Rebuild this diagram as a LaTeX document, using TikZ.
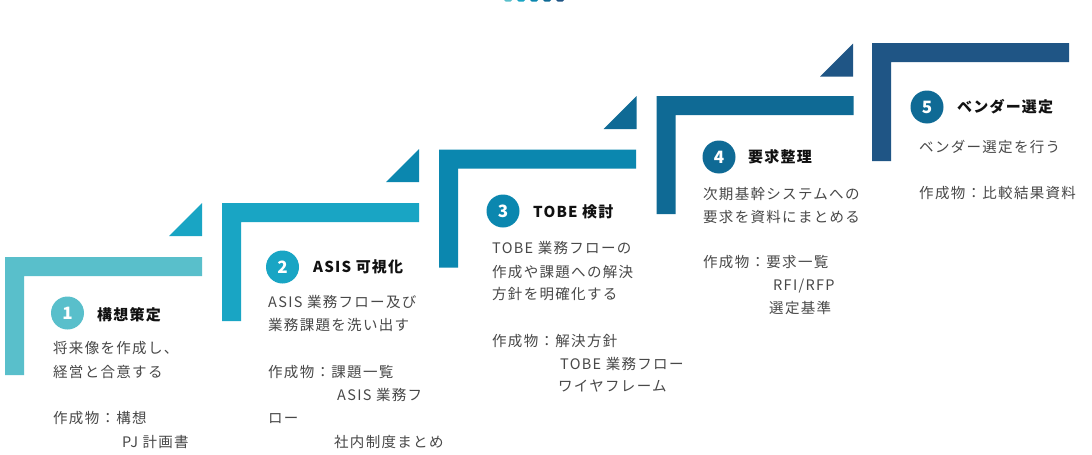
\documentclass[tikz,border=0pt]{standalone}
\usepackage{fontspec}
\newfontfamily\jp[LetterSpace=9]{Noto Sans CJK JP}
\newfontfamily\jpt[LetterSpace=8]{Noto Sans CJK JP}
\definecolor{cA}{HTML}{59BFCB}
\definecolor{cB}{HTML}{19A5C4}
\definecolor{cC}{HTML}{0B87AF}
\definecolor{cD}{HTML}{0F6A95}
\definecolor{cE}{HTML}{1F5585}
\definecolor{bodygray}{HTML}{484848}
\definecolor{titleblack}{HTML}{111111}
\tikzset{
  body/.style={anchor=west, inner sep=0pt, text=bodygray,
    font=\jp\fontsize{14.5}{16}\selectfont, text height=12.7pt, text depth=1.8pt},
  ttl/.style={anchor=west, inner sep=0pt, text=titleblack,
    font=\jpt\bfseries\fontsize{15}{17}\selectfont, text height=13.2pt, text depth=1.8pt},
  numc/.style={circle, minimum size=33pt, inner sep=0pt, text=white,
    font=\jpt\bfseries\fontsize{17}{18}\selectfont},
  ell/.style={fill=#1},
  tri/.style={fill=#1},
  dot/.style={fill=#1, rounded corners=1.5pt}
}
\newcommand{\stepL}[3]{% x0, ytop, colour
  \fill[ell=#3] (#1,#2) -- ++(197,0) -- ++(0,19) -- ++(-178,0) -- ++(0,99) -- ++(-19,0) -- cycle;}
\newcommand{\stepT}[3]{% right x, bottom y, colour
  \fill[tri=#3] (#1-33,#2) -- (#1,#2) -- (#1,#2-33) -- cycle;}
\begin{document}
\begin{tikzpicture}[x=1pt,y=-1pt]
\useasboundingbox (0,0) rectangle (1092,455);
\fill[white] (0,0) rectangle (1092,455);

% top dots
\fill[dot=cA] (504,-7) rectangle (512,1.5);
\fill[dot=cB] (517,-7) rectangle (525,1.5);
\fill[dot=cC] (530,-7) rectangle (538,1.5);
\fill[dot=cD] (543,-7) rectangle (551,1.5);
\fill[dot=cE] (556,-7) rectangle (564,1.5);

% L shapes
\stepL{5}{257}{cA}
\stepL{222}{203}{cB}
\stepL{439}{149.5}{cC}
\stepL{656.5}{96}{cD}
\stepL{872}{43}{cE}

% triangles (colour of next step)
\stepT{202}{236}{cB}
\stepT{419}{182}{cC}
\stepT{636.5}{129}{cD}
\stepT{853}{76.5}{cE}

% step 1
\node[numc, fill=cA] (c1) at (67.5,313) {1};
\node[ttl] (t1) at (97,315) {構想策定};
\node[body] (b1a) at (53,348) {将来像を作成し、};
\node[body] (b1b) at (53,372) {経営と合意する};
\node[body] (b1c) at (53,418) {作成物：構想};
\node[body] (b1d) at (122,442) {PJ 計画書};

% step 2
\node[numc, fill=cB] (c2) at (282.5,267) {2};
\node[ttl] (t2) at (313,267) {ASIS 可視化};
\node[body] (b2a) at (268,302) {ASIS 業務フロー及び};
\node[body] (b2b) at (268,325) {業務課題を洗い出す};
\node[body] (b2c) at (268,372) {作成物：課題一覧};
\node[body] (b2d) at (337,395) {ASIS 業務フ};
\node[body] (b2e) at (268,418) {ロー};
\node[body] (b2f) at (334,442) {社内制度まとめ};

% step 3
\node[numc, fill=cC] (c3) at (503,211) {3};
\node[ttl] (t3) at (533,212) {TOBE 検討};
\node[body] (b3a) at (492,248) {TOBE 業務フローの};
\node[body] (b3b) at (492,272) {作成や課題への解決};
\node[body] (b3c) at (492,294.5) {方針を明確化する};
\node[body] (b3d) at (492,341) {作成物：解決方針};
\node[body] (b3e) at (560,364) {TOBE 業務フロー};
\node[body] (b3f) at (558,386) {ワイヤフレーム};

% step 4
\node[numc, fill=cD] (c4) at (719,157) {4};
\node[ttl] (t4) at (748,157) {要求整理};
\node[body] (b4a) at (703,194) {次期基幹システムへの};
\node[body] (b4b) at (703,217) {要求を資料にまとめる};
\node[body] (b4c) at (703,262) {作成物：要求一覧};
\node[body] (b4d) at (773,285) {RFI/RFP};
\node[body] (b4e) at (769,308) {選定基準};

% step 5
\node[numc, fill=cD] (c5) at (927,107) {5};
\node[ttl] (t5) at (957,107) {ベンダー選定};
\node[body] (b5a) at (919,147) {ベンダー選定を行う};
\node[body] (b5b) at (919,193) {作成物：比較結果資料};
\end{tikzpicture}
\end{document}
